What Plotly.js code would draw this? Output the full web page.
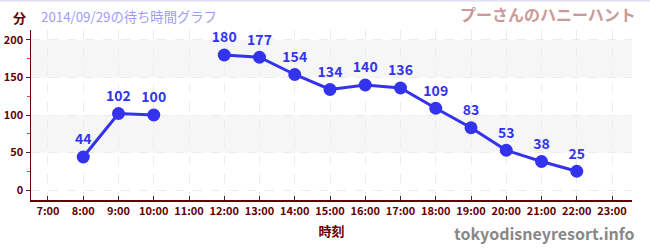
<!DOCTYPE html>
<html>
<head>
<meta charset="utf-8">
<script src="https://cdn.plot.ly/plotly-3.0.1.min.js"></script>
<style>html,body{margin:0;padding:0;background:#fff;}#chart{width:650px;height:250px;}</style>
</head>
<body>
<div id="chart"></div>
<script>
var hours = [8, 9, 10, 11, 12, 13, 14, 15, 16, 17, 18, 19, 20, 21, 22];
var waits = [44, 102, 100, null, 180, 177, 154, 134, 140, 136, 109, 83, 53, 38, 25];
var tickHours = [7, 8, 9, 10, 11, 12, 13, 14, 15, 16, 17, 18, 19, 20, 21, 22, 23];
var tickLabels = ["7:00","8:00","9:00","10:00","11:00","12:00","13:00","14:00","15:00","16:00","17:00","18:00","19:00","20:00","21:00","22:00","23:00"];
var yTicks = [0, 50, 100, 150, 200];
var bands = [[50, 100], [150, 200]];

var F = "'Noto Sans CJK JP', 'Noto Sans', sans-serif";
var dark = "#660000";

var shapes = bands.map(function(b){
  return {type:"rect", xref:"paper", yref:"y", x0:0, x1:1, y0:b[0], y1:b[1],
          fillcolor:"#f6f6f6", line:{width:0}, layer:"below"};
});
shapes.push({type:"line", xref:"paper", yref:"paper", x0:-0.1, x1:1.1, y0:1.172, y1:1.172,
             line:{color:"#e2e2f6", width:2}});

var trace = {
  x: hours, y: waits, type: "scatter", mode: "lines+markers+text",
  connectgaps: false,
  line: {color: "#3333ee", width: 3},
  marker: {color: "#3333ee", size: 13},
  text: waits.map(function(v){ return v === null ? "" : String(v); }),
  textposition: "top center",
  textfont: {family: F, size: 14, color: "#3333ee", weight: "bold"},
  cliponaxis: false,
  hoverinfo: "none"
};

var layout = {
  width: 650, height: 250,
  margin: {l: 31, r: 18, t: 30, b: 50},
  paper_bgcolor: "#fff", plot_bgcolor: "#fff",
  showlegend: false,
  shapes: shapes,
  xaxis: {
    range: [6.518, 23.567],
    tickvals: tickHours, ticktext: tickLabels,
    tickfont: {family: F, size: 11, color: dark, weight: "bold"},
    ticks: "inside", ticklen: 4, tickcolor: "#333",
    showline: true, linecolor: dark, linewidth: 1.5,
    showgrid: true, gridcolor: "#ececec", griddash: "dash", gridwidth: 1,
    zeroline: false,
    title: {text: "時刻", font: {family: F, size: 13, color: dark, weight: "bold"}, standoff: 10}
  },
  yaxis: {
    range: [-13.3, 213.3],
    tickvals: yTicks,
    tickfont: {family: F, size: 11, color: dark, weight: "bold"},
    ticks: "outside", ticklen: 4, tickcolor: "#333",
    showline: true, linecolor: dark, linewidth: 1.5,
    showgrid: true, gridcolor: "#ececec", griddash: "dash", gridwidth: 1,
    zeroline: false,
    minor: {tickvals: [25, 75, 125, 175], ticks: "outside", ticklen: 3, tickcolor: "#ff3333", showgrid: false}
  },
  annotations: [
    {text: "分", xref: "paper", yref: "paper", x: -0.005, y: 1.0, yshift: 24, xanchor: "right", yanchor: "top",
     showarrow: false, font: {family: F, size: 13, color: dark, weight: "bold"}},
    {text: "2014/09/29の待ち時間グラフ", xref: "paper", yref: "paper", x: 0.013, y: 1.0, yshift: 25, xanchor: "left", yanchor: "top",
     showarrow: false, font: {family: F, size: 13.3, color: "#9c9cf4"}},
    {text: "プーさんのハニーハント", xref: "paper", yref: "paper", x: 1.0, y: 1.0, yshift: 30, xshift: 6, xanchor: "right", yanchor: "top",
     showarrow: false, font: {family: F, size: 16, color: "#cc9999", weight: "bold"}},
    {text: "tokyodisneyresort.info", xref: "paper", yref: "paper", x: 1.0, y: 0, yshift: -19, xshift: 5, xanchor: "right", yanchor: "top",
     showarrow: false, font: {family: F, size: 16, color: "#888888", weight: "bold"}}
  ]
};

Plotly.newPlot("chart", [trace], layout, {staticPlot: true, displayModeBar: false});
</script>
</body>
</html>
